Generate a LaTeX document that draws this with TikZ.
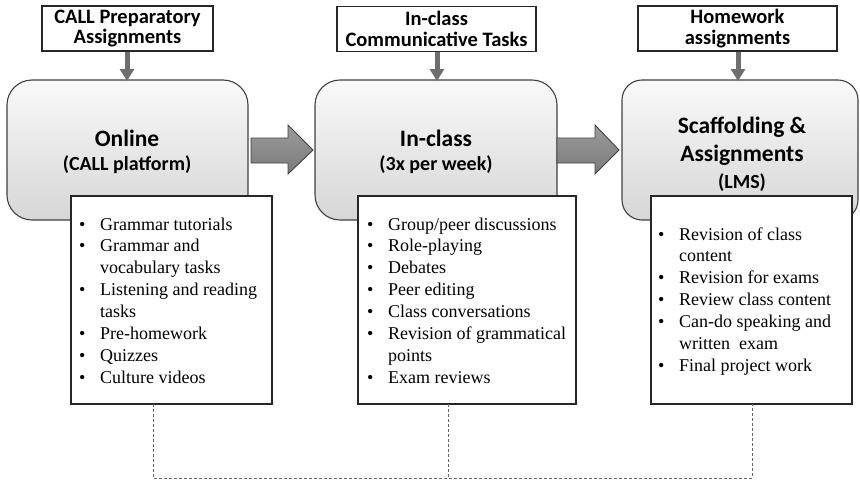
\documentclass[tikz,border=0pt]{standalone}
\usepackage{fontspec}
\setmainfont{Liberation Serif}
\newfontfamily\headfont{Carlito}
\usetikzlibrary{arrows.meta,calc}
\definecolor{edgegray}{HTML}{404040}
\definecolor{arrowgray}{HTML}{8A8A8A}
\definecolor{downgray}{HTML}{6E6E6E}
\begin{document}
\begin{tikzpicture}[x=1pt,y=-1pt,
  toplabel/.style={draw=black!85,line width=1.1pt,fill=white,inner sep=0pt,
    minimum height=45pt,align=center,font=\headfont\bfseries\fontsize{20.5}{20.5}\selectfont},
  phasebox/.style={draw=edgegray,line width=1.1pt,rounded corners=25pt,
    top color=gray!5,bottom color=gray!32,minimum height=140pt,inner sep=0pt},
  listbox/.style={draw=black!85,line width=1.3pt,fill=white,minimum height=208pt,inner sep=0pt},
  titletext/.style={font=\headfont\bfseries\fontsize{23.5}{28}\selectfont,inner sep=0pt},
  subtext/.style={font=\headfont\bfseries\fontsize{20}{22}\selectfont,inner sep=0pt},
  listtext/.style={anchor=base west,inner sep=0pt,align=left},
  downarrow/.style={draw=downgray,line width=5pt,-{Triangle[width=14pt,length=12pt]}},
  blockarrow/.style={draw=edgegray,line width=0.9pt,top color=arrowgray!85,bottom color=arrowgray!90!black,middle color=arrowgray},
  linkline/.style={draw=black!60,line width=1pt,dash pattern=on 3pt off 2pt}
]
\useasboundingbox (0,0) rectangle (860,482);
\newcommand{\bul}{\makebox[21pt][l]{\textbullet}}
\newcommand{\ind}{\hspace*{21pt}}

% phase boxes
\node[phasebox,minimum width=241pt] (b1) at (127.5,150) {};
\node[phasebox,minimum width=242pt] (b2) at (436,150) {};
\begin{scope}
\clip (0,0) rectangle (860,482);
\node[phasebox,minimum width=236pt,rounded corners=20pt] (b3) at (740,150) {};
\end{scope}

% top labels
\node[toplabel,minimum width=171pt] (t1) at (127.5,28.5) {CALL Preparatory\\Assignments};
\node[toplabel,minimum width=199pt] (t2) at (436.5,29) {In-class\\Communicative Tasks};
\node[toplabel,minimum width=199pt] (t3) at (737.5,28.5) {Homework\\assignments};

% down arrows
\draw[downarrow] (t1.south -| 127,0) -- (127,81) coordinate (d1);
\draw[downarrow] (t2.south -| 437,0) -- (437,81) coordinate (d2);
\draw[downarrow] (t3.south -| 738,0) -- (738,81) coordinate (d3);

% titles
\node[titletext] (h1) at (127,138) {Online};
\node[subtext] (s1) at (127,165) {(CALL platform)};
\node[titletext] (h2) at (436,138) {In-class};
\node[subtext] (s2) at (436,165) {(3x per week)};
\node[titletext] (h3a) at (742,127) {Scaffolding \&};
\node[titletext] (h3b) at (742,155) {Assignments};
\node[subtext] (s3) at (742,183) {(LMS)};

% block arrows
\path[blockarrow] (251,138) -- (288,138) -- (288,125) -- (313,150) -- (288,174) -- (288,163) -- (251,163) -- cycle;
\path[blockarrow] (557,138) -- (595,138) -- (595,125) -- (619,150) -- (595,174) -- (595,163) -- (557,163) -- cycle;

% list boxes
\node[listbox,minimum width=201pt] (l1) at (171.5,300) {};
\node[listbox,minimum width=218pt] (l2) at (467,300) {};
\node[listbox,minimum width=201pt] (l3) at (751.5,300) {};

\node[listtext] (x1) at (79,230) {\fontsize{18}{21.9}\selectfont
\begin{tabular}[t]{@{}l@{}}
\bul Grammar tutorials\\
\bul Grammar and\\
\ind vocabulary tasks\\
\bul Listening and reading\\
\ind tasks\\
\bul Pre-homework\\
\bul Quizzes\\
\bul Culture videos
\end{tabular}};

\node[listtext] (x2) at (367,230) {\fontsize{18}{21.9}\selectfont
\begin{tabular}[t]{@{}l@{}}
\bul Group/peer discussions\\
\bul Role-playing\\
\bul Debates\\
\bul Peer editing\\
\bul Class conversations\\
\bul Revision of grammatical\\
\ind points\\
\bul Exam reviews
\end{tabular}};

\node[listtext] (x3) at (658,240) {\fontsize{18}{21.9}\selectfont
\begin{tabular}[t]{@{}l@{}}
\bul Revision of class\\
\ind content\\
\bul Revision for exams\\
\bul Review class content\\
\bul Can-do speaking and\\
\ind written\ \ exam\\
\bul Final project work
\end{tabular}};

% dashed links
\coordinate (p1) at (153,404);
\coordinate (p2) at (448,404);
\coordinate (p3) at (752,404);
\coordinate (q1) at (153,478);
\coordinate (q2) at (448,478);
\coordinate (q3) at (752,478);
\draw[linkline] (p1) -- (q1) -- (q3) -- (p3);
\draw[linkline] (p2) -- (q2);
\end{tikzpicture}
\end{document}
